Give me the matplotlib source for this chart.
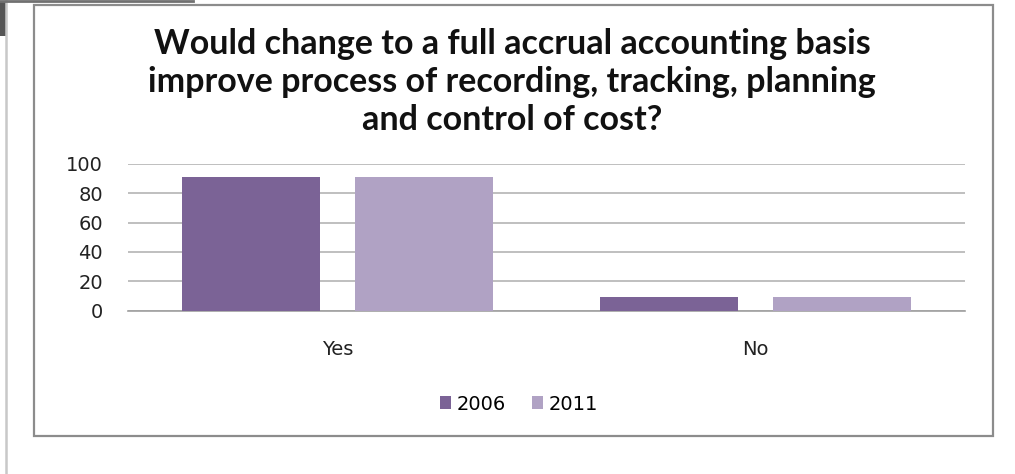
import matplotlib.pyplot as plt
from matplotlib.patches import Rectangle
from matplotlib.lines import Line2D
import numpy as np

categories = ['Yes', 'No']
series_names = ['2006', '2011']
values_2006 = [91, 9]
values_2011 = [91, 9]
colors = ['#7B6396', '#B0A2C4']
title = ('Would change to a full accrual accounting basis\n'
         'improve process of recording, tracking, planning\n'
         'and control of cost?')

W, H = 1015, 474
fig = plt.figure(figsize=(W / 100, H / 100), dpi=100)

# frame around the chart
fig.patches.append(Rectangle((34 / W, 1 - 436 / H), (993 - 34) / W, (436 - 5) / H,
                             transform=fig.transFigure, fill=False,
                             edgecolor='#8C8C8C', linewidth=1.6))
# bits of the page edge on the left
fig.lines.append(Line2D([6 / W, 6 / W], [0, 1], transform=fig.transFigure,
                        color='#C8C8C8', linewidth=1.8))
fig.lines.append(Line2D([0, 193 / W], [1 - 1 / H, 1 - 1 / H], transform=fig.transFigure,
                        color='#707070', linewidth=2))
fig.patches.append(Rectangle((0, 1 - 36 / H), 6 / W, 34 / H, transform=fig.transFigure,
                             color='#555555', linewidth=0))

ax = fig.add_axes([128 / W, 1 - 310.7 / H, (965 - 128) / W, (310.7 - 163.7) / H])
x = np.arange(len(categories))
w = 0.33
ax.bar(x - 0.207, values_2006, w, color=colors[0], label=series_names[0], zorder=3)
ax.bar(x + 0.207, values_2011, w, color=colors[1], label=series_names[1], zorder=3)

ax.set_xlim(-0.5, 1.5)
ax.set_ylim(0, 100)
ax.set_yticks(range(0, 101, 20))
ax.yaxis.grid(True, color='#B4B4B4', linewidth=1.2, zorder=0)
for s in ['top', 'right', 'left']:
    ax.spines[s].set_visible(False)
ax.spines['bottom'].set_color('#A0A0A0')
ax.spines['bottom'].set_linewidth(1.2)
ax.tick_params(length=0, labelsize=14, colors='#222222')
ax.tick_params(axis='y', pad=18)
ax.tick_params(axis='x', pad=21)
ax.set_xticks(x)
ax.set_xticklabels(categories)

fig.text(512 / W, 1 - 82 / H, title, ha='center', va='center', fontsize=24.5,
         fontweight='bold', family='Lato', linespacing=1.25, color='#111111')

fig.legend(loc='center', bbox_to_anchor=(519 / W, 1 - 404 / H), ncol=2, frameon=False,
           prop={'size': 14}, handlelength=0.6, handleheight=0.6,
           handletextpad=0.3, columnspacing=1.3)

fig.savefig('out.png', dpi=100)
